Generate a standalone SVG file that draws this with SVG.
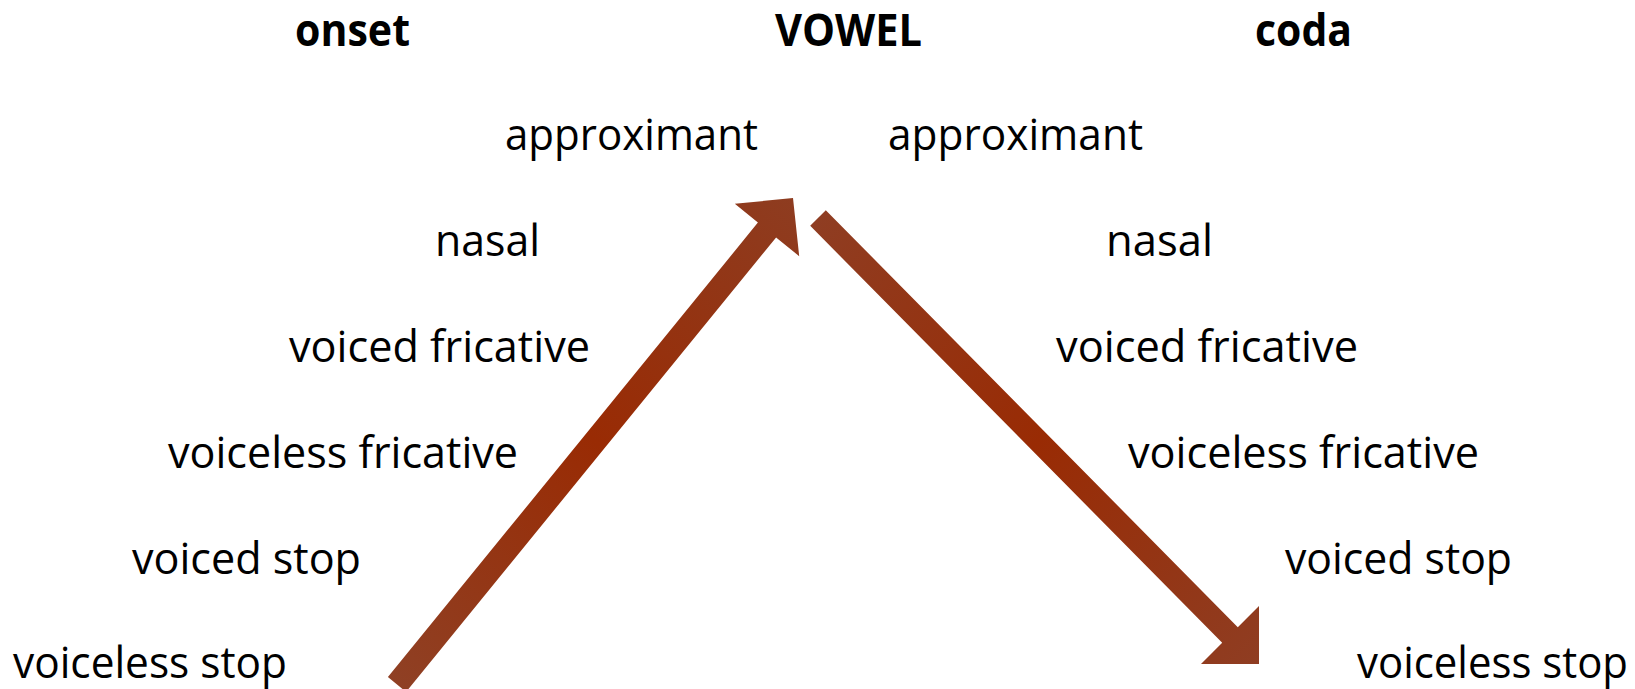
<svg xmlns="http://www.w3.org/2000/svg" width="1635" height="689" viewBox="0 0 1635 689">
  <style>
    text { font-family: "Open Sans", "Noto Sans", "Liberation Sans", sans-serif; fill: #000; }
    .hdr { font-size: 44px; font-weight: bold; }
    .lbl { font-size: 43px; }
  </style>
  <defs>
    <linearGradient id="gL" gradientUnits="userSpaceOnUse" x1="397" y1="684" x2="793" y2="198">
      <stop offset="0" stop-color="#8f4024"/>
      <stop offset="0.5" stop-color="#992b04"/>
      <stop offset="1" stop-color="#8e3c20"/>
    </linearGradient>
    <linearGradient id="gR" gradientUnits="userSpaceOnUse" x1="818" y1="218" x2="1259" y2="664">
      <stop offset="0" stop-color="#8f3d22"/>
      <stop offset="0.5" stop-color="#992b04"/>
      <stop offset="1" stop-color="#8f3d22"/>
    </linearGradient>
  </defs>
  <rect width="1635" height="689" fill="#fff"/>

  <g id="connectors">
    <polygon fill="url(#gL)" points="387.9,677.1 757.9,222.6 734.8,203.8 793,198 799.2,256.2 776.1,237.4 406.1,691.9"/>
    <polygon fill="url(#gR)" points="825.8,210.2 1237.8,627.2 1259,606 1259,664 1201,664 1222.2,642.8 810.2,225.8"/>
  </g>

  <g id="hdr-onset"><text class="hdr" x="295" y="46" textLength="115" lengthAdjust="spacingAndGlyphs">onset</text></g>
  <g id="hdr-vowel"><text class="hdr" x="775" y="46" textLength="147" lengthAdjust="spacingAndGlyphs">VOWEL</text></g>
  <g id="hdr-coda"><text class="hdr" x="1255" y="46" textLength="97" lengthAdjust="spacingAndGlyphs">coda</text></g>

  <g id="onset-approximant"><text class="lbl" x="505" y="150" textLength="253" lengthAdjust="spacingAndGlyphs">approximant</text></g>
  <g id="onset-nasal"><text class="lbl" x="435" y="256" textLength="105" lengthAdjust="spacingAndGlyphs">nasal</text></g>
  <g id="onset-voiced-fricative"><text class="lbl" x="289" y="362" textLength="301" lengthAdjust="spacingAndGlyphs">voiced fricative</text></g>
  <g id="onset-voiceless-fricative"><text class="lbl" x="168" y="468" textLength="350" lengthAdjust="spacingAndGlyphs">voiceless fricative</text></g>
  <g id="onset-voiced-stop"><text class="lbl" x="132" y="574" textLength="229" lengthAdjust="spacingAndGlyphs">voiced stop</text></g>
  <g id="onset-voiceless-stop"><text class="lbl" x="13" y="678" textLength="274" lengthAdjust="spacingAndGlyphs">voiceless stop</text></g>

  <g id="coda-approximant"><text class="lbl" x="888" y="150" textLength="255" lengthAdjust="spacingAndGlyphs">approximant</text></g>
  <g id="coda-nasal"><text class="lbl" x="1106" y="256" textLength="107" lengthAdjust="spacingAndGlyphs">nasal</text></g>
  <g id="coda-voiced-fricative"><text class="lbl" x="1056" y="362" textLength="302" lengthAdjust="spacingAndGlyphs">voiced fricative</text></g>
  <g id="coda-voiceless-fricative"><text class="lbl" x="1128" y="468" textLength="351" lengthAdjust="spacingAndGlyphs">voiceless fricative</text></g>
  <g id="coda-voiced-stop"><text class="lbl" x="1285" y="574" textLength="227" lengthAdjust="spacingAndGlyphs">voiced stop</text></g>
  <g id="coda-voiceless-stop"><text class="lbl" x="1357" y="678" textLength="271" lengthAdjust="spacingAndGlyphs">voiceless stop</text></g>
</svg>
